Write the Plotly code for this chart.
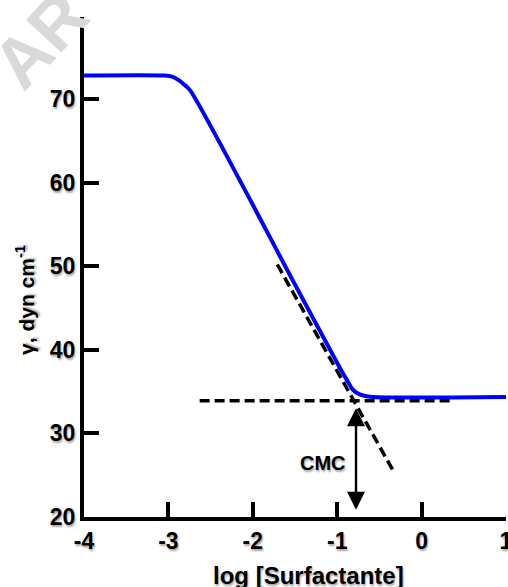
import plotly.graph_objects as go

# Blue measured curve (surface tension vs log concentration)
log_conc = [-4.0, -3.05, -2.95, -2.87, -2.80, -2.74, -1.50, -0.95, -0.88, -0.82, -0.76, -0.68, -0.58, 1.0]
gamma = [72.8, 72.8, 72.65, 72.2, 71.6, 71.0, 47.8, 37.5, 36.3, 35.3, 34.8, 34.5, 34.35, 34.35]

# Dashed tangent lines
steep_x = [-1.71, -0.34]
steep_y = [50.2, 25.6]
flat_x = [-2.63, 0.36]
flat_y = [33.9, 33.9]

# CMC arrow
cmc_x = -0.777
cmc_top = 33.0
cmc_bottom = 20.7

x_ticks = [-4, -3, -2, -1, 0, 1]
x_ticktext = ["-4", "-3", "-2", "-1", "0", "1"]
y_ticks = [20, 30, 40, 50, 60, 70]
y_ticktext = ["20", "30", "40", "50", "60", "70"]

FONT = "Liberation Sans, Arial, Helvetica, sans-serif"
SHADOW = "1px 2px 2px rgba(0,0,0,0.35)"

fig = go.Figure()
fig.add_trace(go.Scatter(x=steep_x, y=steep_y, mode="lines",
                         line=dict(color="black", width=3.5, dash="10px,5px"),
                         showlegend=False, hoverinfo="skip"))
fig.add_trace(go.Scatter(x=flat_x, y=flat_y, mode="lines",
                         line=dict(color="black", width=3.5, dash="10px,5px"),
                         showlegend=False, hoverinfo="skip"))
fig.add_trace(go.Scatter(x=log_conc, y=gamma, mode="lines",
                         line=dict(color="#0000ff", width=4, shape="spline", smoothing=0.8),
                         showlegend=False))

fig.add_annotation(x=cmc_x, y=cmc_top, ax=cmc_x, ay=cmc_bottom, xref="x", yref="y",
                   axref="x", ayref="y", text="", showarrow=True, arrowhead=2,
                   arrowside="end+start", arrowsize=1.5, arrowwidth=2.4, arrowcolor="black")
fig.add_annotation(x=-1.17, y=26.4, xref="x", yref="y", text="<b>CMC</b>", showarrow=False,
                   xanchor="center", yanchor="middle",
                   font=dict(family=FONT, size=20, color="black", shadow=SHADOW))

# Watermark fragment
fig.add_annotation(x=-0.104, y=0.954, xref="paper", yref="paper", text="<b>AR</b>",
                   showarrow=False, textangle=-47, xanchor="center", yanchor="middle",
                   font=dict(family=FONT, size=70, color="#d9d9d9"))

# Axis titles
fig.add_annotation(x=-0.14, y=0.434, xref="paper", yref="paper",
                   text="<b>γ, dyn cm<sup>-1</sup></b>", showarrow=False, textangle=-90,
                   xanchor="center", yanchor="middle",
                   font=dict(family=FONT, size=21, color="black", shadow=SHADOW))
fig.add_annotation(x=0.533, y=-0.118, xref="paper", yref="paper",
                   text="<b>log [Surfactante]</b>", showarrow=False,
                   xanchor="center", yanchor="middle",
                   font=dict(family=FONT, size=24, color="black", shadow=SHADOW))

axis_common = dict(showline=True, linewidth=4, linecolor="black", ticks="inside",
                   ticklen=15, tickwidth=4, tickcolor="black", showgrid=False,
                   zeroline=False, mirror=False, ticklabeloverflow="allow", automargin=False,
                   tickfont=dict(family=FONT, size=23, color="black", weight="bold", shadow=SHADOW))

fig.update_xaxes(range=[-4, 1], tickvals=x_ticks, ticktext=x_ticktext, **axis_common)
fig.update_yaxes(range=[20, 79.8], tickvals=y_ticks, ticktext=y_ticktext, **axis_common)

fig.update_layout(width=508, height=587, margin=dict(l=84, r=2, t=17, b=70),
                  plot_bgcolor="white", paper_bgcolor="white")

fig.write_html("out.html")
